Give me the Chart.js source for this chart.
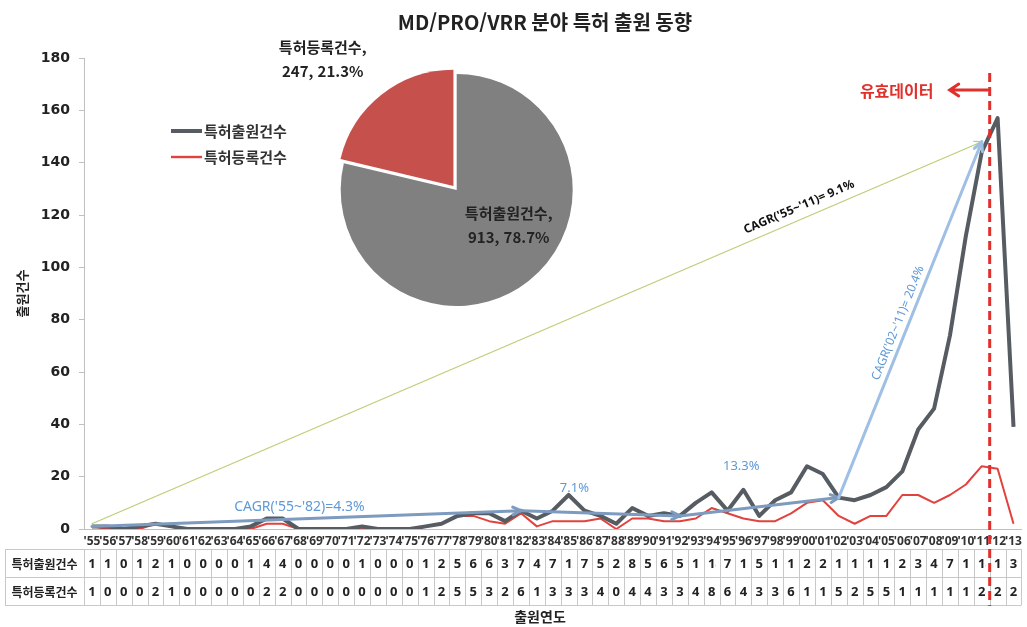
<!DOCTYPE html>
<html lang="ko">
<head>
<meta charset="utf-8">
<title>MD/PRO/VRR 분야 특허 출원 동향</title>
<script src="https://cdn.jsdelivr.net/npm/chart.js@4.4.0/dist/chart.umd.min.js"></script>
<style>
  html, body { margin: 0; padding: 0; background: #fff; }
  #wrap { position: relative; width: 1027px; height: 627px; }
  #wrap canvas { position: absolute; left: 0; top: 0; }
</style>
</head>
<body>
<div id="wrap">
  <canvas id="trendChart" width="1027" height="627"></canvas>
  <canvas id="shareChart" width="1027" height="627"></canvas>
</div>
<script>
const years = [
    "'55", "'56", "'57", "'58", "'59", "'60", "'61", "'62", "'63", "'64",
    "'65", "'66", "'67", "'68", "'69", "'70", "'71", "'72", "'73", "'74",
    "'75", "'76", "'77", "'78", "'79", "'80", "'81", "'82", "'83", "'84",
    "'85", "'86", "'87", "'88", "'89", "'90", "'91", "'92", "'93", "'94",
    "'95", "'96", "'97", "'98", "'99", "'00", "'01", "'02", "'03", "'04",
    "'05", "'06", "'07", "'08", "'09", "'10", "'11", "'12", "'13"
];

// 특허출원건수
const applications = [
    1, 1, 0, 1, 2, 1, 0, 0, 0, 0,
    1, 4, 4, 0, 0, 0, 0, 1, 0, 0,
    0, 1, 2, 5, 6, 6, 3, 7, 4, 7,
    13, 7, 5, 2, 8, 5, 6, 5, 10, 14,
    7, 15, 5, 11, 14, 24, 21, 12, 11, 13,
    16, 22, 38, 46, 74, 112, 144, 157, 39
];

// 특허등록건수
const registrations = [
    1, 0, 0, 0, 2, 1, 0, 0, 0, 0,
    0, 2, 2, 0, 0, 0, 0, 0, 0, 0,
    0, 1, 2, 5, 5, 3, 2, 6, 1, 3,
    3, 3, 4, 0, 4, 4, 3, 3, 4, 8,
    6, 4, 3, 3, 6, 10, 11, 5, 2, 5,
    5, 13, 13, 10, 13, 17, 24, 23, 2
];

const seriesNames = ['특허출원건수', '특허등록건수'];
const shareValues = [913, 247];
const sharePercents = ['78.7%', '21.3%'];
const yTicks = [0, 20, 40, 60, 80, 100, 120, 140, 160, 180];

const KR = '"Noto Sans CJK KR", "Noto Sans", sans-serif';
const LAT = '"Noto Sans", "DejaVu Sans", sans-serif';
const lineColors = ['#575c63', '#e0433e'];

// growth arrows, endpoints given in chart units
const cagrArrows = [
    { from: ["'55", 2], to: ["'11", 148], color: '#bccf78', width: 1.3, head: 8,
      text: "CAGR('55~'11)= 9.1%", along: true, t: 0.8, off: 12,
      font: 'bold 12px ' + LAT, textColor: '#111' },
    { from: ["'55", 1], to: ["'82", 7], color: '#7d9abf', width: 3, head: 9,
      text: "CAGR('55~'82)=4.3%", dx: -7, dy: -12,
      font: '14px ' + LAT, textColor: '#5f9ad6' },
    { from: ["'82", 7], to: ["'92", 5], color: '#7d9abf', width: 3, head: 9,
      text: '7.1%', dx: -26, dy: -25,
      font: '13px ' + LAT, textColor: '#5f9ad6' },
    { from: ["'92", 5], to: ["'02", 12], color: '#7d9abf', width: 3, head: 9,
      text: '13.3%', dx: -18, dy: -40,
      font: '13px ' + LAT, textColor: '#5f9ad6' },
    { from: ["'02", 12], to: ["'11", 148], color: '#9fbfe4', width: 3, head: 10,
      text: "CAGR('02~'11)= 20.4%", along: true, t: 0.48, off: 10,
      font: '12px ' + LAT, textColor: '#5f9ad6' }
];

function drawArrow(ctx, x1, y1, x2, y2, color, width, head) {
    const a = Math.atan2(y2 - y1, x2 - x1);
    ctx.save();
    ctx.strokeStyle = color;
    ctx.lineWidth = width;
    ctx.lineCap = 'round';
    ctx.lineJoin = 'round';
    ctx.beginPath();
    ctx.moveTo(x1, y1);
    ctx.lineTo(x2, y2);
    ctx.stroke();
    ctx.beginPath();
    ctx.moveTo(x2 - head * Math.cos(a - 0.45), y2 - head * Math.sin(a - 0.45));
    ctx.lineTo(x2, y2);
    ctx.lineTo(x2 - head * Math.cos(a + 0.45), y2 - head * Math.sin(a + 0.45));
    ctx.stroke();
    ctx.restore();
}

function text(ctx, str, x, y, font, color, align) {
    ctx.save();
    ctx.font = font;
    ctx.fillStyle = color;
    ctx.textAlign = align || 'center';
    ctx.textBaseline = 'middle';
    ctx.fillText(str, x, y);
    ctx.restore();
}

const trendDecor = {
    id: 'trendDecor',
    afterDatasetsDraw(chart) {
        const ctx = chart.ctx;
        const xs = chart.scales.x, ys = chart.scales.y;
        const px = lbl => xs.getPixelForValue(years.indexOf(lbl));

        cagrArrows.forEach(ar => {
            const x1 = px(ar.from[0]), y1 = ys.getPixelForValue(ar.from[1]);
            const x2 = px(ar.to[0]), y2 = ys.getPixelForValue(ar.to[1]);
            drawArrow(ctx, x1, y1, x2, y2, ar.color, ar.width, ar.head);
            if (ar.along) {
                const a = Math.atan2(y2 - y1, x2 - x1);
                ctx.save();
                ctx.translate(x1 + (x2 - x1) * ar.t, y1 + (y2 - y1) * ar.t);
                ctx.rotate(a);
                text(ctx, ar.text, 0, -ar.off, ar.font, ar.textColor);
                ctx.restore();
            } else {
                text(ctx, ar.text, (x1 + x2) / 2 + ar.dx, (y1 + y2) / 2 + ar.dy, ar.font, ar.textColor);
            }
        });
    },
    afterDraw(chart) {
        const ctx = chart.ctx;
        const xs = chart.scales.x;
        const area = chart.chartArea;
        const step = xs.getPixelForValue(1) - xs.getPixelForValue(0);

        // title
        text(ctx, 'MD/PRO/VRR 분야 특허 출원 동향', 545, 22, 'bold 20px ' + KR, '#222');

        // legend
        [[131, 4], [157, 2.4]].forEach(([ly, lw], i) => {
            ctx.save();
            ctx.strokeStyle = lineColors[i];
            ctx.lineWidth = lw;
            ctx.beginPath();
            ctx.moveTo(171, ly);
            ctx.lineTo(202, ly);
            ctx.stroke();
            ctx.restore();
            text(ctx, seriesNames[i], 204, ly, 'bold 15px ' + KR, '#333', 'left');
        });

        // data table
        const tTop = 549, rowH = 28, tLeft = 5;
        const rows = [applications, registrations];
        ctx.save();
        ctx.strokeStyle = '#c8c8c8';
        ctx.lineWidth = 1;
        ctx.beginPath();
        for (let r = 0; r <= rows.length; r++) {
            const yy = Math.round(tTop + r * rowH) + 0.5;
            ctx.moveTo(tLeft, yy);
            ctx.lineTo(area.right, yy);
        }
        const vx = [tLeft, area.left];
        years.forEach((_, i) => vx.push(xs.getPixelForValue(i) + step / 2));
        vx.forEach(xx => {
            ctx.moveTo(Math.round(xx) + 0.5, tTop);
            ctx.lineTo(Math.round(xx) + 0.5, tTop + rows.length * rowH);
        });
        ctx.stroke();
        ctx.restore();

        rows.forEach((vals, r) => {
            const cy = tTop + r * rowH + rowH / 2 + 1;
            text(ctx, seriesNames[r], (tLeft + area.left) / 2, cy, 'bold 12px ' + KR, '#222');
            vals.forEach((v, i) => {
                const cx = xs.getPixelForValue(i);
                const s = String(v);
                ctx.save();
                ctx.font = 'bold 13px ' + LAT;
                const w1 = ctx.measureText(s.charAt(0)).width;
                // narrow cells cut off the trailing digits
                ctx.beginPath();
                ctx.rect(cx - w1 / 2 - 0.5, cy - 10, w1 + 0.5, 20);
                ctx.clip();
                ctx.fillStyle = '#222';
                ctx.textAlign = 'left';
                ctx.textBaseline = 'middle';
                ctx.fillText(s, cx - w1 / 2, cy);
                ctx.restore();
            });
        });

        text(ctx, '출원연도', 540, 617, 'bold 14px ' + KR, '#222');

        // cut-off for valid data, between '11 and '12
        const cut = (xs.getPixelForValue(years.indexOf("'11")) + xs.getPixelForValue(years.indexOf("'12"))) / 2;
        ctx.save();
        ctx.strokeStyle = '#e0302c';
        ctx.lineWidth = 3;
        ctx.setLineDash([9, 5]);
        ctx.beginPath();
        ctx.moveTo(cut, 73);
        ctx.lineTo(cut, tTop + rows.length * rowH + 1);
        ctx.stroke();
        ctx.restore();

        ctx.save();
        ctx.strokeStyle = '#e0302c';
        ctx.lineWidth = 3;
        ctx.lineCap = 'round';
        ctx.beginPath();
        ctx.moveTo(cut - 2, 90);
        ctx.lineTo(cut - 40, 90);
        ctx.moveTo(cut - 31, 84);
        ctx.lineTo(cut - 40, 90);
        ctx.lineTo(cut - 31, 96);
        ctx.stroke();
        ctx.restore();
        text(ctx, '유효데이터', cut - 93, 91, 'bold 16px ' + KR, '#e0302c');
    }
};

new Chart('trendChart', {
    type: 'line',
    data: {
        labels: years,
        datasets: [{
            label: seriesNames[0],
            data: applications,
            borderColor: lineColors[0],
            borderWidth: 4,
            pointRadius: 0,
            tension: 0,
            borderJoinStyle: 'round'
        }, {
            label: seriesNames[1],
            data: registrations,
            borderColor: lineColors[1],
            borderWidth: 2,
            pointRadius: 0,
            tension: 0,
            borderJoinStyle: 'round'
        }]
    },
    options: {
        responsive: false,
        animation: false,
        events: [],
        layout: { padding: { top: 58, right: 2, left: 0, bottom: 0 } },
        plugins: {
            legend: { display: false },
            tooltip: { enabled: false },
            title: { display: false }
        },
        scales: {
            x: {
                type: 'category',
                offset: true,
                afterFit: s => { s.height = 98; },
                grid: { drawOnChartArea: false, drawTicks: false },
                border: { color: '#c0c0c0' },
                ticks: {
                    autoSkip: false,
                    maxRotation: 0,
                    minRotation: 0,
                    padding: 5,
                    color: '#333',
                    font: { family: LAT, size: 12, weight: 'bold' }
                }
            },
            y: {
                min: 0,
                max: 180,
                afterFit: s => { s.width = 84; },
                afterBuildTicks: s => { s.ticks = yTicks.map(v => ({ value: v })); },
                grid: { drawOnChartArea: false, color: '#c0c0c0', tickLength: 5 },
                border: { color: '#c0c0c0' },
                ticks: {
                    padding: 9,
                    color: '#222',
                    font: { family: '"DejaVu Sans", sans-serif', size: 14, weight: 'bold' }
                },
                title: {
                    display: true,
                    text: '출원건수',
                    color: '#222',
                    padding: { top: 14, bottom: 0 },
                    font: { family: KR, size: 13, weight: 'bold' }
                }
            }
        }
    },
    plugins: [trendDecor]
});

const pieLabels = {
    id: 'pieLabels',
    afterDraw(chart) {
        const ctx = chart.ctx;
        const arc = chart.getDatasetMeta(0).data[0];
        const cx = arc.x, cy = arc.y;
        const spots = [[52, 23], [-134, -143]];
        shareValues.forEach((v, i) => {
            const [dx, dy] = spots[i];
            text(ctx, seriesNames[i] + ',', cx + dx, cy + dy, 'bold 15px ' + KR, '#222');
            text(ctx, v + ', ' + sharePercents[i], cx + dx, cy + dy + 24, 'bold 15px ' + KR, '#222');
        });
    }
};

new Chart('shareChart', {
    type: 'pie',
    data: {
        labels: seriesNames,
        datasets: [{
            data: shareValues,
            backgroundColor: ['#808080', '#c6504c'],
            borderWidth: 0,
            offset: [0, 21]
        }]
    },
    options: {
        responsive: false,
        animation: false,
        events: [],
        radius: 116,
        layout: { padding: { left: 306.7, right: 420.3, top: 40, bottom: 287 } },
        plugins: {
            legend: { display: false },
            tooltip: { enabled: false }
        }
    },
    plugins: [pieLabels]
});
</script>
</body>
</html>
